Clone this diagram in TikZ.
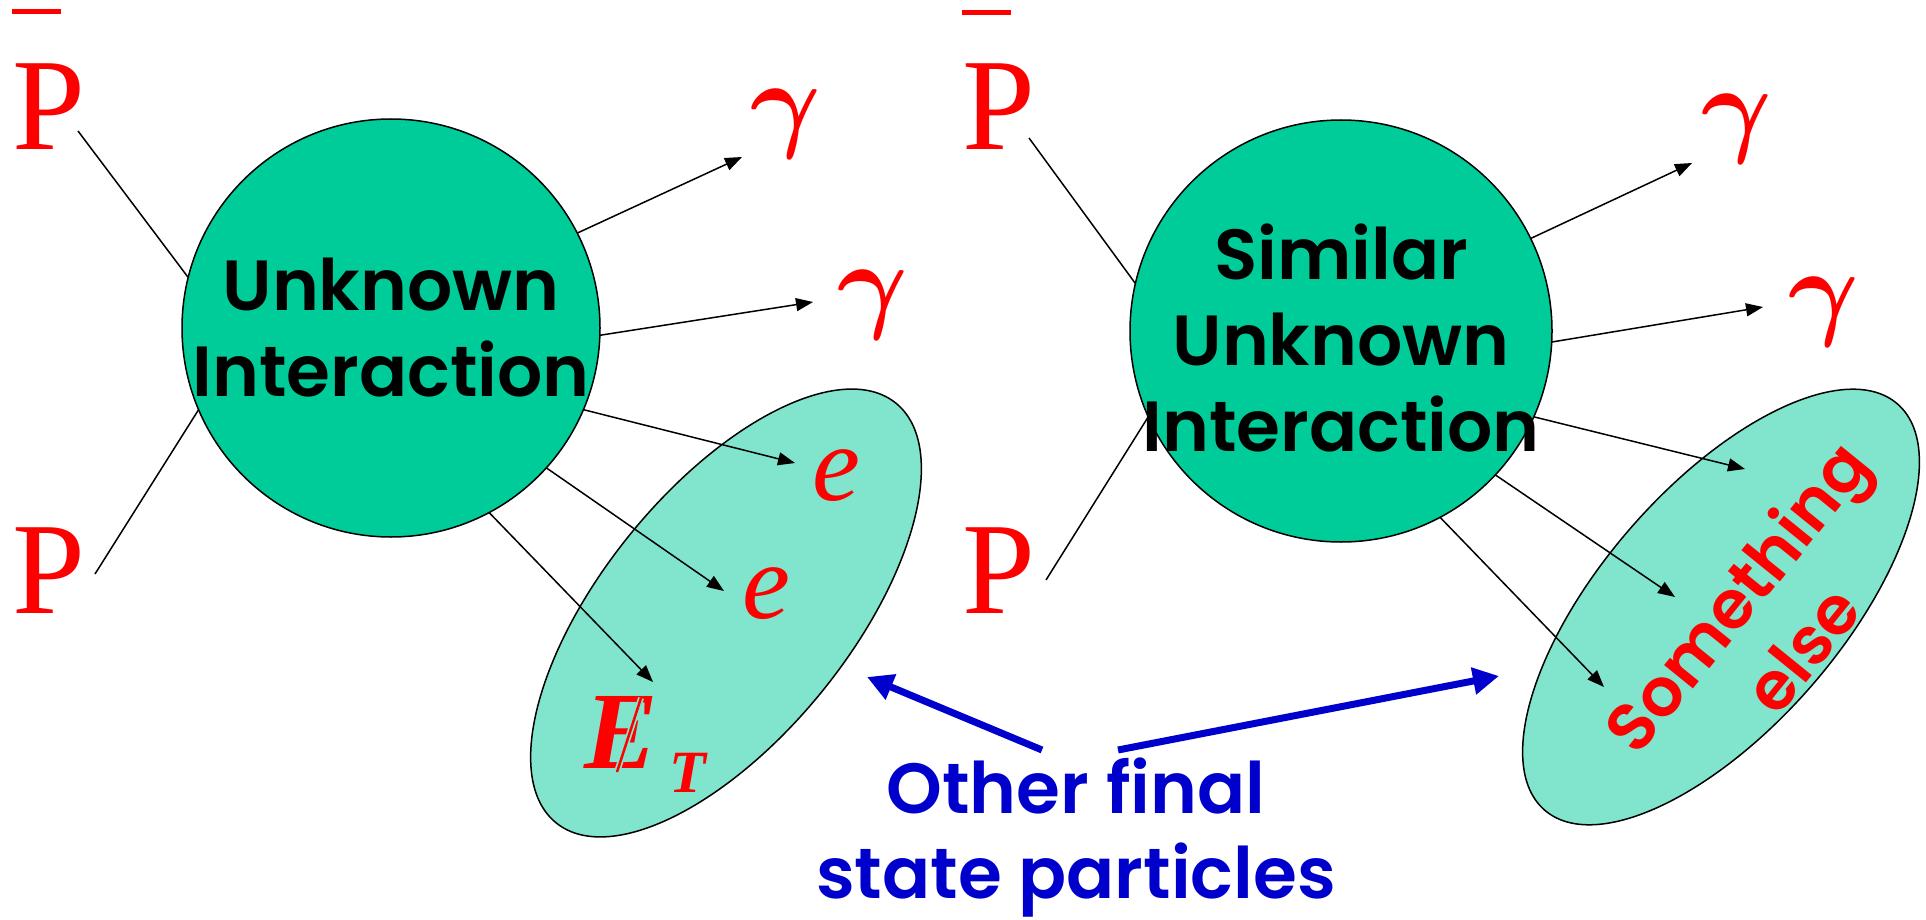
\RequirePackage{fix-cm}
\documentclass[tikz,border=0pt]{standalone}
\usepackage{bm}
\usepackage{fontspec}
\setmainfont{Liberation Serif}
\newfontfamily\comic{Poppins}[BoldFont={* SemiBold}]
\usetikzlibrary{shapes.geometric,arrows.meta}
\definecolor{core}{RGB}{0,204,153}
\definecolor{halo}{RGB}{128,229,204}
\definecolor{pred}{RGB}{255,0,0}
\definecolor{pblue}{RGB}{0,0,204}
\begin{document}
\begin{tikzpicture}[x=1pt,y=-1pt,
  arr/.style={-{Triangle[length=17pt,width=13pt]}, line width=1.5pt},
  plain/.style={line width=1.5pt},
  barrow/.style={-{Triangle[length=26pt,width=26pt]}, line width=7pt, draw=pblue},
  blob/.style={circle, draw, line width=1.5pt, fill=core, inner sep=0pt, outer sep=0pt},
  fsbox/.style={ellipse, draw, line width=1.5pt, fill=halo, inner sep=0pt, outer sep=0pt},
  big/.style={font=\fontsize{131}{131}\selectfont, text=pred, inner sep=0pt, anchor=base west},
  part/.style={font=\fontsize{108}{108}\selectfont\itshape, text=pred, inner sep=0pt, anchor=base},
  lbl/.style={font=\comic\bfseries\fontsize{71}{86}\selectfont, align=center, inner sep=0pt}
]
\useasboundingbox (0,0) rectangle (1926,920);

% final-state ellipses
\node[fsbox, minimum width=540pt, minimum height=248pt, rotate=51] (E1) at (726,613) {};
\node[fsbox, minimum width=538pt, minimum height=240pt, rotate=49] (E2) at (1721,607) {};

% interaction blobs
\node[blob, minimum size=418pt] (c1) at (391,328) {};
\node[blob, minimum size=422pt] (c2) at (1341,331) {};
\node[lbl] (t1) at (391,328) {Unknown\\Interaction};
\node[lbl] (t2) at (1341,338) {Similar\\Unknown\\Interaction};

% incoming protons
\node[big] (pb1) at (12,150) {P};
\node[big] (p1) at (12,613) {P};
\node[big] (pb2) at (962,150) {P};
\node[big] (p2) at (962,613) {P};
\draw[pred, line width=5pt] (12,11.5) -- (61,11.5);
\draw[pred, line width=5pt] (962,12.5) -- (1011,12.5);
\coordinate (pbs1) at (78,131);
\coordinate (ps1) at (95,574);
\coordinate (pbs2) at (1029,138);
\coordinate (ps2) at (1046,580);
\draw[plain] (pbs1) -- (c1.166);
\draw[plain] (ps1) -- (c1.203);
\draw[plain] (pbs2) -- (c2.167);
\draw[plain] (ps2) -- (c2.204);

% outgoing particles, left
\node[part] (g1) at (786,138) {$\bm{\gamma}$};
\node[part] (g2) at (873,318) {$\bm{\gamma}$};
\node[part] (e1) at (836,500) {e};
\node[part] (e2) at (766,618) {e};
\node[inner sep=0pt, anchor=base west, text=pred, font=\fontsize{110}{110}\selectfont\bfseries\itshape] (et) at (584,768)
  {E\hspace{12pt}\raisebox{-24pt}{\fontsize{60}{60}\selectfont T}};
\draw[halo, line width=6pt] (641,698) -- (617,772);
\draw[pred, line width=2.5pt] (641,698) -- (617,772);

\coordinate (la1) at (742,157);
\coordinate (la2) at (813,302);
\coordinate (la3) at (795,463);
\coordinate (la4) at (724,591);
\coordinate (la5) at (653,682);
\draw[arr] (c1.27) -- (la1);
\draw[arr] (c1.358) -- (la2);
\draw[arr] (c1.337) -- (la3);
\draw[arr] (c1.318) -- (la4);
\draw[arr] (c1.298) -- (la5);

% outgoing particles, right
\node[part] (g3) at (1737,143) {$\bm{\gamma}$};
\node[part] (g4) at (1824,325) {$\bm{\gamma}$};
\node[lbl, text=pred, rotate=51, font=\comic\bfseries\fontsize{67}{84}\selectfont] (t3) at (1768,622) {Something\\else};

\coordinate (ra1) at (1692,163);
\coordinate (ra2) at (1763,307);
\coordinate (ra3) at (1745,469);
\coordinate (ra4) at (1675,597);
\coordinate (ra5) at (1604,687);
\draw[arr] (c2.26) -- (ra1);
\draw[arr] (c2.357) -- (ra2);
\draw[arr] (c2.336) -- (ra3);
\draw[arr] (c2.317) -- (ra4);
\draw[arr] (c2.298) -- (ra5);

% caption with blue arrows
\node[lbl, text=pblue, anchor=north, font=\comic\bfseries\fontsize{71}{85}\selectfont] (t4) at (1076,758) {Other final\\state particles};
\coordinate (bt1) at (1042,750);
\coordinate (bh1) at (867,677);
\coordinate (bt2) at (1118,750);
\coordinate (bh2) at (1499,676);
\draw[barrow] (bt1) -- (bh1);
\draw[barrow] (bt2) -- (bh2);
\end{tikzpicture}
\end{document}
